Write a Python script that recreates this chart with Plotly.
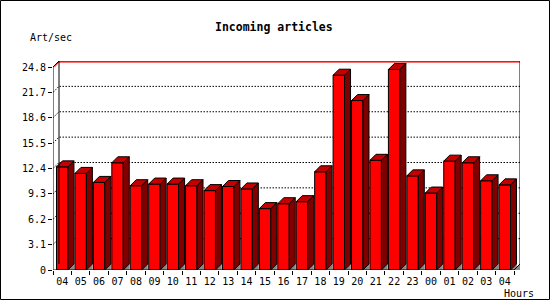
import plotly.graph_objects as go

# ---------------- data ----------------
hours = ["04", "05", "06", "07", "08", "09", "10", "11", "12", "13", "14", "15", "16",
         "17", "18", "19", "20", "21", "22", "23", "00", "01", "02", "03", "04"]
art_per_sec = [12.6, 11.8, 10.7, 13.1, 10.3, 10.5, 10.5, 10.3, 9.7, 10.2, 9.9, 7.5, 8.1,
               8.35, 12.0, 23.8, 20.7, 13.4, 24.5, 11.5, 9.4, 13.3, 13.1, 10.9, 10.4]
y_ticks = [0, 3.1, 6.2, 9.3, 12.4, 15.5, 18.6, 21.7, 24.8]
y_ticktext = ["0", "3.1", "6.2", "9.3", "12.4", "15.5", "18.6", "21.7", "24.8"]
title_text = "Incoming articles"
y_title = "Art/sec"
x_title = "Hours"

# ---------------- layout geometry ----------------
W, H = 550, 300
L, R, T, B = 53, 30, 61, 30
PW, PH = W - L - R, H - T - B
DEPTH = 6.0                      # 3D depth in pixels
n = len(hours)
ymax = y_ticks[-1]
sx = (PW - DEPTH) / n
sy = (PH - DEPTH) / ymax
dx = DEPTH / sx
dy = DEPTH / sy
BW = 0.62                        # bar front width (category units)

FONT = "DejaVu Sans Mono"
idx = list(range(n))

fig = go.Figure()

# front faces
fig.add_trace(go.Bar(
    x=idx, y=art_per_sec, width=BW,
    marker=dict(color="#ff0000", line=dict(color="black", width=1)),
    hoverinfo="skip", showlegend=False,
))

# side faces, top faces, floor triangles
sx_, sy_, tx_, ty_, gx_, gy_ = [], [], [], [], [], []
for i, v in zip(idx, art_per_sec):
    xl, xr = i - BW / 2, i + BW / 2
    sx_ += [xr, xr + dx, xr + dx, xr, xr, None]
    sy_ += [0, dy, v + dy, v, 0, None]
    tx_ += [xl, xl + dx, xr + dx, xr, xl, None]
    ty_ += [v, v + dy, v + dy, v, v, None]
    gx_ += [xr, xr + dx, xr + dx, xr, None]
    gy_ += [0, 0, dy, 0, None]
# right wall floor triangle
gx_ += [n - 0.5, n - 0.5 + dx, n - 0.5 + dx, n - 0.5, None]
gy_ += [0, 0, dy, 0, None]

fig.add_trace(go.Scatter(x=gx_, y=gy_, mode="lines", fill="toself", fillcolor="#888888",
                         line=dict(color="#888888", width=0.5), hoverinfo="skip",
                         showlegend=False, cliponaxis=False))
fig.add_trace(go.Scatter(x=sx_, y=sy_, mode="lines", fill="toself", fillcolor="#800000",
                         line=dict(color="black", width=1), hoverinfo="skip",
                         showlegend=False))
fig.add_trace(go.Scatter(x=tx_, y=ty_, mode="lines", fill="toself", fillcolor="#c40000",
                         line=dict(color="black", width=1), hoverinfo="skip",
                         showlegend=False))

# gridlines on the back wall (drawn below everything)
for v in y_ticks[1:-1]:
    fig.add_shape(type="path", xref="x", yref="y", layer="below",
                  path=f"M {-0.5},{v} L {-0.5 + dx},{v + dy} L {n - 0.5 + dx},{v + dy}",
                  line=dict(color="black", width=1, dash="1.5px,1.5px"))

# red max line
fig.add_trace(go.Scatter(
    x=[-0.5 + 0.08, -0.5 + dx, n - 0.5 + dx - 0.02],
    y=[ymax, ymax + dy - 0.13, ymax + dy - 0.13],
    mode="lines", line=dict(color="#ff0000", width=1), hoverinfo="skip",
    showlegend=False, cliponaxis=False))

# axes / wall frame
fig.add_trace(go.Scatter(
    x=[-0.5, -0.5, -0.5 + dx, n - 0.5 + dx, n - 0.5 + dx, n - 0.5, -0.5, None,
       -0.5 + dx, -0.5 + dx],
    y=[0, ymax, ymax + dy, ymax + dy, dy, 0, 0, None, dy, ymax + dy],
    mode="lines", line=dict(color="black", width=1), hoverinfo="skip",
    showlegend=False, cliponaxis=False))

# outer border
fig.add_shape(type="rect", xref="paper", yref="paper",
              x0=(0.5 - L) / PW, x1=(W - 0.5 - L) / PW,
              y0=(PH - (H - 0.5 - T)) / PH, y1=(PH + T - 0.5) / PH,
              line=dict(color="black", width=1))

def px_to_paper(px, py):
    return (px - L) / PW, (T + PH - py) / PH

ax, ay = px_to_paper(273.5, 27)
fig.add_annotation(text=f"<b>{title_text}</b>", x=ax, y=ay, xref="paper", yref="paper",
                   showarrow=False, font=dict(family=FONT, size=11.5, color="black"),
                   xanchor="center", yanchor="middle")
ax, ay = px_to_paper(50.5, 37)
fig.add_annotation(text=y_title, x=ax, y=ay, xref="paper", yref="paper",
                   showarrow=False, font=dict(family=FONT, size=10, color="black"),
                   xanchor="center", yanchor="middle")
ax, ay = px_to_paper(519, 293.5)
fig.add_annotation(text=x_title, x=ax, y=ay, xref="paper", yref="paper",
                   showarrow=False, font=dict(family=FONT, size=10, color="black"),
                   xanchor="center", yanchor="middle")

fig.update_layout(
    width=W, height=H, autosize=False,
    margin=dict(l=L, r=R, t=T, b=B, pad=0),
    paper_bgcolor="white", plot_bgcolor="white",
    showlegend=False,
    xaxis=dict(range=[-0.5, n - 0.5 + dx], tickmode="array", tickvals=idx, ticktext=hours,
               ticks="outside", ticklen=2, tickcolor="rgba(0,0,0,0)",
               minor=dict(tickmode="array", tickvals=[i - 0.5 for i in range(n + 1)],
                          ticks="outside", ticklen=4, tickcolor="black", showgrid=False),
               showgrid=False, zeroline=False, showline=False,
               tickfont=dict(family=FONT, size=10, color="black"), fixedrange=True),
    yaxis=dict(range=[0, ymax + dy], tickmode="array", tickvals=y_ticks, ticktext=y_ticktext,
               ticks="outside", ticklen=4, tickcolor="black",
               showgrid=False, zeroline=False, showline=False,
               tickfont=dict(family=FONT, size=10, color="black"), fixedrange=True),
)

fig.write_html("out.html")
